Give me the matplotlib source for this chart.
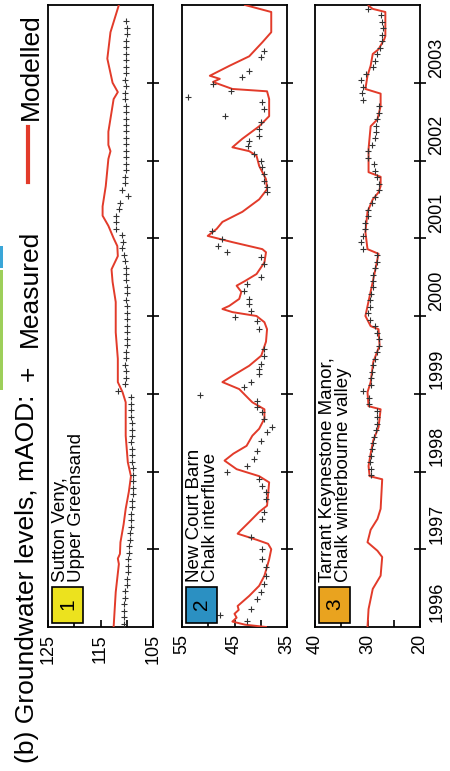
import numpy as np
import matplotlib.pyplot as plt
from matplotlib.patches import Rectangle
from matplotlib.lines import Line2D

plt.rcParams['font.family'] = ['Liberation Sans', 'DejaVu Sans']

# chart is drawn rotated: time runs bottom->top, water level right->left
years = [1996, 1997, 1998, 1999, 2000, 2001, 2002, 2003]

# --- panel 1: Sutton Veny, Upper Greensand ---
p1_mod_t = [1996.00, 1996.45, 1996.81, 1996.88, 1996.94, 1997.09, 1997.32, 1997.52,
            1997.74, 1997.94, 1998.12, 1998.46, 1998.89, 1999.02, 1999.15, 1999.45,
            1999.79, 2000.18, 2000.44, 2000.60, 2000.77, 2000.90, 2001.00, 2001.16,
            2001.29, 2001.41, 2001.67, 2002.02, 2002.12, 2002.20, 2002.37, 2002.79,
            2002.88, 2003.00, 2003.31, 2003.65, 2004.00]
p1_mod_v = [112.5, 112.1, 111.5, 111.7, 111.3, 111.2, 110.6, 110.2,
            109.6, 109.2, 109.8, 110.2, 110.2, 110.8, 111.7, 111.7,
            112.1, 112.1, 112.7, 112.9, 111.7, 111.8, 112.5, 113.5,
            114.6, 114.6, 114.0, 113.5, 113.1, 113.5, 113.5, 112.5,
            111.7, 112.7, 113.7, 113.1, 111.5]
p1_meas_t = 1996.04 + np.arange(94) / 12
p1_meas_v = [110.6, 110.6, 110.5, 110.6, 110.4, 110.3, 110.0, 109.9, 109.8, 109.8, 109.7, 109.6,
             109.5, 109.4, 109.3, 109.2, 109.2, 109.1, 109.0, 109.0, 108.9, 108.9, 108.9, 108.9,
             108.9, 109.0, 109.0, 109.0, 109.1, 109.0, 109.0, 109.0, 109.1, 109.1, 109.1, 109.2,
             111.7, 110.3, 110.2, 110.2, 110.3, 110.2, 110.1, 110.0, 110.0, 110.0, 110.0, 110.0,
             110.0, 110.0, 110.1, 110.0, 110.0, 110.1, 110.2, 110.2, 110.3, 110.6, 110.9, 110.8,
             110.9, 112.0, 112.1, 112.0, 111.4, 111.2, 109.8, 111.0, 110.4, 110.3, 110.2, 110.2,
             110.1, 110.2, 110.2, 110.1, 110.2, 110.2, 110.1, 110.1, 110.2, 110.4, 110.4, 110.2,
             110.3, 110.2, 110.2, 110.1, 110.2, 110.1, 110.1, 110.0, 110.0, 110.1]

# --- panel 2: New Court Barn, Chalk interfluve ---
p2_mod_t = [1996.00, 1996.03, 1996.07, 1996.12, 1996.17, 1996.22, 1996.27, 1996.40,
            1996.53, 1996.66, 1996.87, 1997.00, 1997.07, 1997.12, 1997.20, 1997.23,
            1997.35, 1997.48, 1997.56, 1997.86, 1997.94, 1998.03, 1998.14, 1998.23,
            1998.33, 1998.46, 1998.55, 1998.68, 1998.80, 1998.89, 1998.93, 1999.06,
            1999.15, 1999.23, 1999.36, 1999.49, 1999.67, 1999.83, 1999.92, 2000.00,
            2000.05, 2000.09, 2000.13, 2000.22, 2000.31, 2000.39, 2000.45, 2000.54,
            2000.69, 2000.82, 2000.86, 2000.95, 2001.03, 2001.12, 2001.21, 2001.34,
            2001.50, 2001.63, 2001.76, 2001.93, 2002.06, 2002.12, 2002.17, 2002.28,
            2002.44, 2002.57, 2002.79, 2002.89, 2002.92, 2003.01, 2003.05, 2003.09,
            2003.22, 2003.34, 2003.52, 2003.65, 2003.91, 2004.00]
p2_mod_v = [39.0, 43.0, 45.4, 44.6, 45.0, 44.2, 44.4, 42.2,
            40.3, 39.3, 38.4, 38.0, 38.6, 40.7, 44.4, 44.0,
            42.2, 40.3, 38.8, 38.4, 40.3, 44.6, 46.9, 45.2,
            42.7, 41.6, 40.3, 39.3, 39.3, 41.6, 42.2, 44.1,
            47.3, 45.4, 42.2, 39.9, 39.0, 38.8, 39.3, 40.8,
            45.4, 47.3, 46.0, 44.1, 43.7, 44.6, 43.0, 40.8,
            39.3, 39.0, 39.7, 45.4, 50.1, 48.4, 47.3, 43.5,
            40.3, 38.8, 39.0, 40.3, 40.8, 42.2, 45.4, 43.5,
            40.3, 38.4, 38.4, 38.8, 45.4, 49.1, 47.8, 49.7,
            45.9, 42.2, 39.7, 38.0, 38.0, 43.0]
p2_meas_t = [1996.08, 1996.15, 1996.23, 1996.36, 1996.45, 1996.55, 1996.66, 1996.77,
             1996.87, 1997.00, 1997.16, 1997.39, 1997.48, 1997.65, 1997.74, 1997.81,
             1997.90, 1997.99, 1998.07, 1998.16, 1998.26, 1998.39, 1998.51, 1998.57,
             1998.68, 1998.77, 1998.83, 1998.91, 1998.98, 1999.09, 1999.15, 1999.25,
             1999.32, 1999.38, 1999.49, 1999.58, 1999.83, 1999.94, 1999.99, 2000.06,
             2000.15, 2000.22, 2000.32, 2000.41, 2000.50, 2000.67, 2000.76, 2000.82,
             2000.90, 2000.99, 2001.09, 2001.59, 2001.66, 2001.74, 2001.83, 2001.92,
             2002.00, 2002.08, 2002.19, 2002.25, 2002.31, 2002.41, 2002.50, 2002.57,
             2002.66, 2002.75, 2002.82, 2002.89, 2002.98, 2003.07, 2003.15, 2003.33,
             2003.41]
p2_meas_v = [42.7, 47.8, 41.8, 40.8, 39.9, 39.3, 39.0, 39.0,
             39.7, 39.7, 41.8, 39.7, 39.3, 39.0, 39.0, 39.7,
             40.3, 46.5, 42.7, 41.2, 40.8, 39.9, 38.8, 37.8,
             39.3, 39.7, 40.8, 40.8, 51.6, 43.1, 41.8, 40.3,
             40.3, 39.9, 39.3, 39.3, 40.3, 40.8, 45.0, 41.8,
             42.2, 42.2, 43.1, 42.7, 39.9, 39.3, 39.9, 46.5,
             48.2, 47.3, 49.3, 38.8, 38.8, 39.3, 39.3, 39.7,
             39.9, 41.2, 42.5, 42.2, 40.3, 40.3, 39.9, 46.9,
             39.3, 39.7, 53.9, 45.6, 49.1, 43.5, 42.2, 39.9,
             39.3]

# --- panel 3: Tarrant Keynestone Manor, Chalk winterbourne valley ---
p3_mod_t = [1996.00, 1996.23, 1996.49, 1996.66, 1996.90, 1996.98, 1997.09, 1997.25,
            1997.39, 1997.52, 1997.90, 1997.94, 1998.07, 1998.23, 1998.40, 1998.57,
            1998.80, 1998.84, 1999.02, 1999.15, 1999.41, 1999.62, 1999.83, 1999.87,
            2000.00, 2000.44, 2000.60, 2000.80, 2000.86, 2001.08, 2001.34, 2001.50,
            2001.59, 2001.67, 2001.79, 2001.85, 2002.15, 2002.44, 2002.53, 2002.70,
            2002.86, 2002.92, 2003.09, 2003.22, 2003.37, 2003.43, 2003.56, 2003.60,
            2003.91, 2003.95, 2003.99]
p3_mod_v = [30.0, 29.8, 29.0, 27.5, 27.2, 28.1, 30.0, 29.4,
            28.1, 27.5, 27.2, 29.6, 29.8, 29.4, 28.9, 27.9,
            27.5, 29.8, 30.0, 29.4, 28.9, 27.7, 27.9, 29.4,
            30.4, 29.0, 28.5, 27.9, 30.0, 30.4, 30.0, 29.0,
            27.9, 27.5, 27.5, 29.8, 29.8, 29.4, 28.1, 27.5,
            27.5, 30.4, 30.0, 29.4, 29.0, 27.9, 26.8, 26.6,
            26.6, 29.0, 29.8]
p3_meas_t = 1997.95 + np.arange(73) / 12
p3_meas_v = [29.4,
             29.4, 29.6, 29.4, 29.2, 29.0, 28.7, 28.3, 28.1, 28.1, 28.1, 29.8, 29.8,
             30.9, 29.4, 29.4, 29.2, 29.0, 28.5, 28.1, 27.9, 27.9, 28.1, 28.5, 29.6,
             30.0, 29.6, 29.6, 29.4, 29.0, 28.9, 28.9, 28.5, 28.1, 28.1, 30.9, 31.3,
             30.9, 30.4, 30.4, 30.0, 30.0, 29.2, 28.5, 27.9, 27.9, 28.1, 28.5, 28.7,
             30.0, 30.0, 29.2, 28.5, 28.3, 28.3, 28.1, 27.9, 27.9, 30.9, 31.1, 30.9,
             31.3, 30.2, 29.0, 28.5, 28.1, 27.7, 27.3, 27.3, 27.1, 27.3, 27.5, 30.0]

RED = '#e23b2a'
W, H = 450, 771

fig = plt.figure(figsize=(4.5, 7.71), dpi=100)

panels = [
    dict(x0=48, mod=(p1_mod_t, p1_mod_v), meas=(p1_meas_t, p1_meas_v), lim=(105, 125),
         num='1', box='#ece21e', label='Sutton Veny,\nUpper Greensand'),
    dict(x0=182, mod=(p2_mod_t, p2_mod_v), meas=(p2_meas_t, p2_meas_v), lim=(35, 55),
         num='2', box='#2b90c2', label='New Court Barn\nChalk interfluve'),
    dict(x0=315, mod=(p3_mod_t, p3_mod_v), meas=(p3_meas_t, p3_meas_v), lim=(20, 40),
         num='3', box='#e9a31f', label='Tarrant Keynestone Manor,\nChalk winterbourne valley'),
]

top_px, bot_px, w_px = 5, 627, 105
for i, p in enumerate(panels):
    ax = fig.add_axes([p['x0'] / W, (H - bot_px) / H, w_px / W, (bot_px - top_px) / H])
    ax.plot(p['mod'][1], p['mod'][0], color=RED, lw=1.4, zorder=3)
    ax.plot(p['meas'][1], p['meas'][0], '+', color='#333333', ms=5, mew=0.8, zorder=4)
    lo, hi = p['lim']
    ax.set_xlim(hi, lo)
    ax.set_ylim(1996, 2004)
    ax.set_xticks([hi, hi - 10, lo])
    ax.set_xticklabels([str(hi), str(hi - 10), str(lo)])
    ax.set_xticks([hi - 5, lo + 5], minor=True)
    ax.tick_params(axis='x', which='both', direction='in', length=5, width=1.2,
                   labelsize=13, labelrotation=90, pad=5)
    ax.yaxis.tick_right()
    ax.set_yticks(years[1:])
    ax.tick_params(axis='y', which='major', direction='inout', length=8, width=1.2,
                   labelright=False)
    if i == 2:
        ax.set_yticks([y + 0.5 for y in years], minor=True)
        ax.set_yticklabels([str(y) for y in years], minor=True)
        ax.tick_params(axis='y', which='minor', length=0, labelsize=13,
                       labelrotation=90, pad=6)
    for s in ax.spines.values():
        s.set_linewidth(1.3)

    # numbered box, with the site name running up above it
    ax.add_patch(Rectangle((0.04, 0.007), 0.29, 0.058, transform=ax.transAxes,
                           facecolor=p['box'], edgecolor='black', lw=1.2, zorder=5))
    ax.text(0.185, 0.036, p['num'], transform=ax.transAxes, rotation=90,
            ha='center', va='center', fontsize=15, zorder=6)
    ax.text(0.035, 0.072, p['label'], transform=ax.transAxes, rotation=90,
            rotation_mode='anchor', ha='left', va='top', fontsize=13.5,
            linespacing=0.95, zorder=6)

# title / legend, rotated
fig.text(34 / W, (H - 763) / H, '(b) Groundwater levels, mAOD:', rotation=90,
         rotation_mode='anchor', ha='left', va='baseline', fontsize=19)
fig.text(36 / W, (H - 373) / H, '+', rotation=90, rotation_mode='anchor',
         ha='center', va='baseline', fontsize=19)
fig.text(37 / W, (H - 347) / H, 'Measured', rotation=90, rotation_mode='anchor',
         ha='left', va='baseline', fontsize=19)
fig.add_artist(Line2D([28 / W, 28 / W], [(H - 182) / H, (H - 127) / H],
                      color=RED, lw=3, transform=fig.transFigure))
fig.text(38 / W, (H - 120) / H, 'Modelled', rotation=90, rotation_mode='anchor',
         ha='left', va='baseline', fontsize=19)

# bits of the legend strip cut off at the left edge
fig.add_artist(Rectangle((0, (H - 268) / H), 3 / W, 22 / H, transform=fig.transFigure,
                         facecolor='#3aa6d8', edgecolor='none'))
fig.add_artist(Rectangle((0, (H - 390) / H), 3 / W, 120 / H, transform=fig.transFigure,
                         facecolor='#9dcf5a', edgecolor='none'))

fig.savefig('out.png', dpi=100)
